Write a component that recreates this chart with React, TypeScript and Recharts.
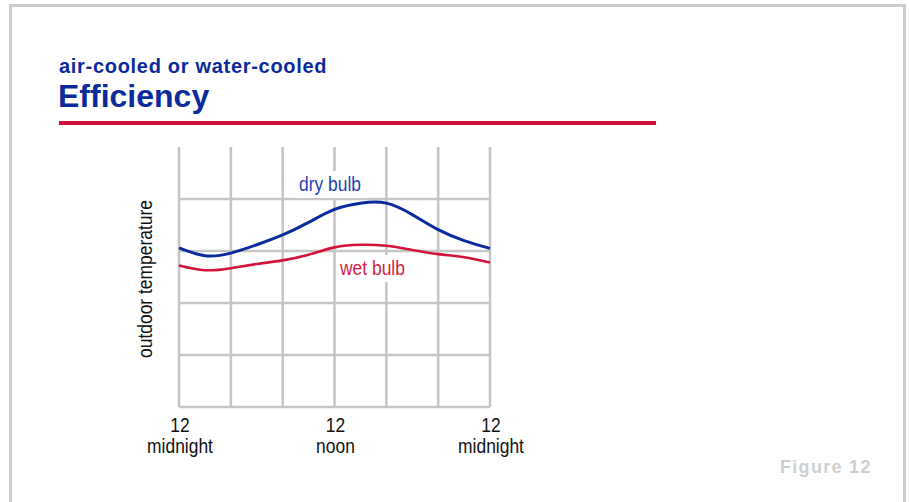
import { LineChart, Line, XAxis, YAxis, CartesianGrid, ReferenceDot } from "recharts";

// hours after midnight, one point every 2 hours
const hours = [0, 2, 4, 6, 8, 10, 12, 14, 16, 18, 20, 22, 24];
// temperatures in grid units (0 = bottom line, 5 = top of plot)
const dryBulb = [3.06, 2.91, 2.96, 3.12, 3.31, 3.55, 3.8, 3.92, 3.92, 3.7, 3.41, 3.2, 3.05];
const wetBulb = [2.72, 2.63, 2.67, 2.75, 2.82, 2.93, 3.07, 3.12, 3.1, 3.02, 2.94, 2.88, 2.78];

const xGridTicks = [0, 4, 8, 12, 16, 20, 24];
const yDomain: [number, number] = [0, 5];
const yGridTicks = [0, 1, 2, 3, 4];
const tickLabels: Record<number, [string, string]> = {
    0: ["12", "midnight"],
    12: ["12", "noon"],
    24: ["12", "midnight"],
};

const data = hours.map((h, i) => ({ hour: h, dry: dryBulb[i], wet: wetBulb[i] }));

// no condensed face installed, so narrow text is squeezed with textLength
const SANS = '"Liberation Sans", Arial, Helvetica, sans-serif';
const BLUE = "#0b2b9c";
const RED = "#d2143c";
const FS = 21;
const NARROW_RATIO = 0.83;

const approxWidth = (s: string) => {
    // rough Arial advance widths in em
    const w: Record<string, number> = {
        "1": 0.556, "2": 0.556, m: 0.833, i: 0.222, d: 0.556, n: 0.556, g: 0.556, h: 0.556, t: 0.278,
        o: 0.556, r: 0.333, y: 0.5, " ": 0.278, b: 0.556, u: 0.556, l: 0.222, w: 0.722, e: 0.556,
        p: 0.556, a: 0.556,
    };
    return [...s].reduce((acc, c) => acc + (w[c] ?? 0.556), 0) * FS * NARROW_RATIO;
};

const Narrow = ({ x, y, children, fill = "#111", ...rest }: any) => (
    <text
        x={x}
        y={y}
        textAnchor="middle"
        fontFamily={SANS}
        fontSize={FS}
        fill={fill}
        textLength={approxWidth(children)}
        lengthAdjust="spacingAndGlyphs"
        {...rest}
    >
        {children}
    </text>
);

const TimeTick = (props: any) => {
    const { x, y, payload } = props;
    const lines = tickLabels[payload.value];
    if (!lines) return null;
    return (
        <g>
            <Narrow x={x + 1} y={y + 17}>{lines[0]}</Narrow>
            <Narrow x={x + 1} y={y + 38}>{lines[1]}</Narrow>
        </g>
    );
};

const seriesLabel = (text: string, color: string) => (props: any) => {
    const { cx, cy } = props;
    return (
        <g>
            <rect x={cx - 36} y={cy - 13} width={72} height={27} fill="#fff" />
            <Narrow x={cx} y={cy + 7} fill={color}>{text}</Narrow>
        </g>
    );
};

// horizontal grid lines only at the labelled levels, none along the top edge
const horizontalLines = ({ offset }: any) =>
    yGridTicks.map(
        (t) => offset.top + offset.height * (1 - (t - yDomain[0]) / (yDomain[1] - yDomain[0]))
    );

export default function App() {
    return (
        <div style={styles.page}>
            <div style={styles.frame} />
            <div style={styles.subtitle}>air-cooled or water-cooled</div>
            <div style={styles.title}>Efficiency</div>
            <div style={styles.rule} />

            <div style={{ position: "absolute", left: 0, top: 0 }}>
                <LineChart
                    width={909}
                    height={502}
                    data={data}
                    margin={{ top: 147, left: 179, right: 419, bottom: 35 }}
                >
                    <CartesianGrid
                        stroke="#c6c6c6"
                        strokeWidth={2.6}
                        horizontalCoordinatesGenerator={horizontalLines}
                    />
                    <XAxis
                        dataKey="hour"
                        type="number"
                        domain={[0, 24]}
                        ticks={xGridTicks}
                        interval={0}
                        axisLine={false}
                        tickLine={false}
                        height={60}
                        tick={<TimeTick />}
                    />
                    <YAxis type="number" domain={yDomain} ticks={yGridTicks} hide width={0} />
                    <Line
                        type="natural"
                        dataKey="wet"
                        stroke={RED}
                        strokeWidth={2.6}
                        dot={false}
                        isAnimationActive={false}
                    />
                    <Line
                        type="natural"
                        dataKey="dry"
                        stroke={BLUE}
                        strokeWidth={3}
                        dot={false}
                        isAnimationActive={false}
                    />
                    <ReferenceDot x={11.65} y={4.29} r={0} shape={seriesLabel("dry bulb", "#1f3fb0")} />
                    <ReferenceDot x={14.93} y={2.67} r={0} shape={seriesLabel("wet bulb", "#d41d45")} />
                </LineChart>
            </div>

            <svg width={909} height={502} style={{ position: "absolute", left: 0, top: 0, pointerEvents: "none" }}>
                <Narrow x={152} y={279} transform="rotate(-90 152 279)">outdoor temperature</Narrow>
            </svg>

            <div style={styles.figure}>Figure 12</div>
        </div>
    );
}

const styles: Record<string, React.CSSProperties> = {
    page: {
        position: "absolute", left: 0, top: 0, width: 909, height: 502,
        background: "#fff", overflow: "hidden",
    },
    frame: {
        position: "absolute", left: 9, top: 4, width: 897, height: 600,
        border: "3px solid #cccccc", boxSizing: "border-box",
    },
    subtitle: {
        position: "absolute", left: 59, top: 56, fontFamily: SANS, fontWeight: 700,
        fontSize: 20, lineHeight: "20px", letterSpacing: 0.7, color: BLUE, whiteSpace: "nowrap",
    },
    title: {
        position: "absolute", left: 58, top: 80, fontFamily: SANS, fontWeight: 700,
        fontSize: 32, lineHeight: "32px", color: BLUE, whiteSpace: "nowrap",
    },
    rule: { position: "absolute", left: 59, top: 121, width: 597, height: 4, background: "#d0103a" },
    figure: {
        position: "absolute", left: 780, top: 458, fontFamily: SANS, fontWeight: 700,
        fontSize: 18, lineHeight: "18px", letterSpacing: 1.3, color: "#cfcfcf", whiteSpace: "nowrap",
    },
};
